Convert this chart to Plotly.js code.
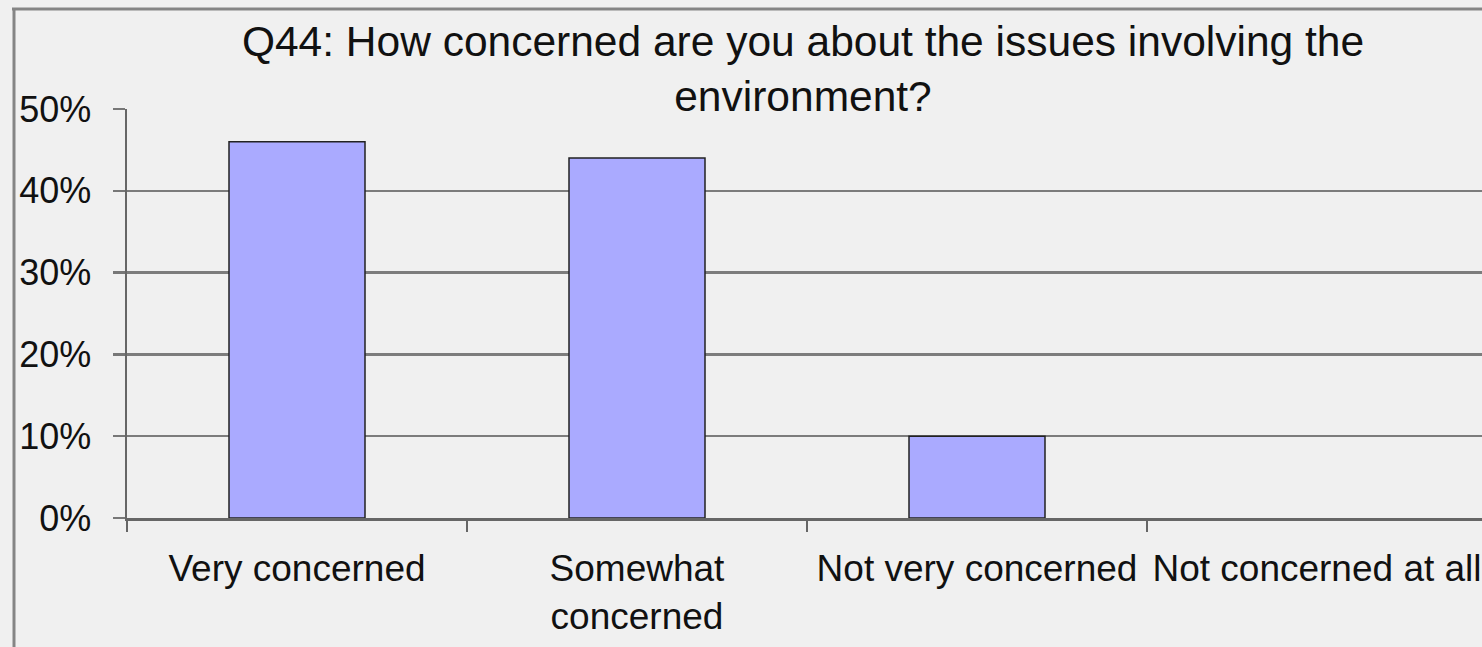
<!DOCTYPE html>
<html>
<head>
<meta charset="utf-8">
<script src="https://cdn.plot.ly/plotly-3.0.1.min.js"></script>
<style>
html,body{margin:0;padding:0;background:#f0f0f0;overflow:hidden;}
#chart{width:1482px;height:647px;}
</style>
</head>
<body>
<div id="chart"></div>
<script>
const categories = ["Very concerned", "Somewhat<br>concerned", "Not very concerned", "Not concerned at all"];
const values = [0.46, 0.44, 0.10, 0.00];
const yTickVals = [0, 0.1, 0.2, 0.3, 0.4, 0.5];
const yTickText = ["0%", "10%", "20%", "30%", "40%", "50%"];
const chartTitle = "Q44: How concerned are you about the issues involving the<br>environment?";

const W = 1482, H = 647;
const ml = 127, mr = 0, mt = 109, mb = 129;
const pw = W - ml - mr, ph = H - mt - mb;
const px2x = p => (p - ml) / pw;
const px2y = p => (H - mb - p) / ph;

const font = {family: "Liberation Sans, Arial, sans-serif", color: "#111111"};

const trace = {
  type: "bar",
  x: categories,
  y: values,
  width: 0.4,
  marker: {color: "#aaaaff", line: {color: "#222222", width: values.map(v => v > 0 ? 1.5 : 0)}},
  hoverinfo: "skip"
};

const layout = {
  width: W, height: H,
  paper_bgcolor: "#f0f0f0",
  plot_bgcolor: "#f0f0f0",
  margin: {l: ml, r: mr, t: mt, b: mb, pad: 0},
  showlegend: false,
  font: Object.assign({size: 36}, font),
  title: {
    text: chartTitle,
    font: Object.assign({size: 42.5}, font),
    x: 803 / W, xanchor: "center", xref: "container",
    y: 1 - 56 / H, yanchor: "top", yref: "container"
  },
  xaxis: {
    type: "category",
    range: [-0.5, 3.5 - 5 / 340],
    showgrid: false,
    zeroline: false,
    showline: true, linecolor: "#666666", linewidth: 2.5,
    ticks: "outside", tickson: "boundaries", ticklen: 11, tickwidth: 2.5, tickcolor: "#666666",
    tickfont: Object.assign({size: 37}, font),
    ticklabelstandoff: 16,
    fixedrange: true
  },
  yaxis: {
    range: [0, 0.5],
    tickvals: yTickVals,
    ticktext: yTickText,
    showgrid: true, gridcolor: "#7c7c7c", gridwidth: 2.5,
    zeroline: false,
    showline: true, linecolor: "#666666", linewidth: 2.5,
    ticks: "outside", ticklen: 12, tickwidth: 2.5, tickcolor: "#777777",
    tickfont: Object.assign({size: 36}, font),
    ticklabelstandoff: 14,
    fixedrange: true
  },
  shapes: [
    {type: "line", xref: "paper", yref: "paper", x0: px2x(14), x1: px2x(14), y0: px2y(8), y1: px2y(H), line: {color: "#858585", width: 3}},
    {type: "line", xref: "paper", yref: "paper", x0: px2x(12), x1: px2x(W), y0: px2y(9), y1: px2y(9), line: {color: "#858585", width: 3}}
  ]
};

Plotly.newPlot("chart", [trace], layout, {displayModeBar: false, staticPlot: true});
</script>
</body>
</html>
